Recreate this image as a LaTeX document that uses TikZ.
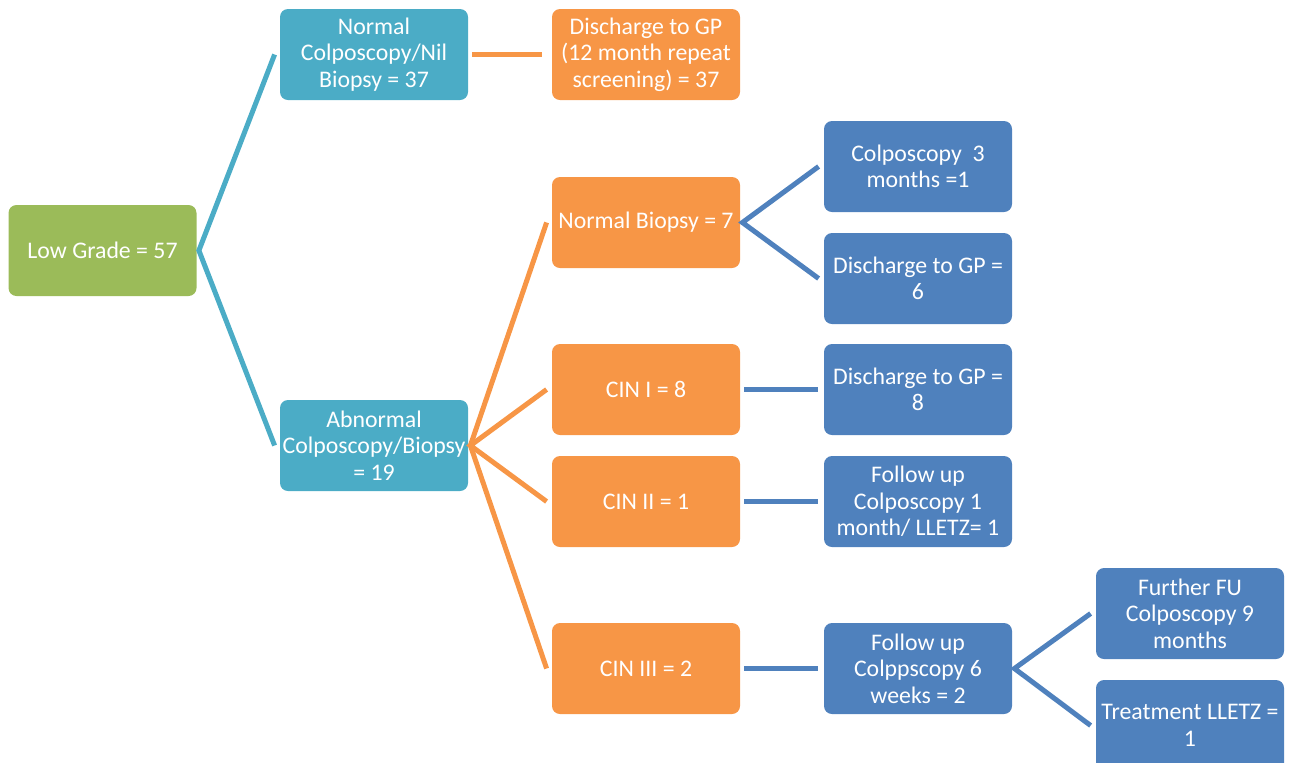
\documentclass[tikz,border=0pt]{standalone}
\usepackage{fontspec}
\setmainfont{Carlito}
\definecolor{lowgreen}{HTML}{9BBB59}
\definecolor{tealfill}{HTML}{4BACC6}
\definecolor{orangefill}{HTML}{F79646}
\definecolor{bluefill}{HTML}{4F81BD}
\tikzset{
	box/.style={rectangle, rounded corners=4pt, minimum width=94pt, minimum height=45.5pt,
		inner sep=1pt, align=center, text=white, font=\fontsize{11.9}{13.3}\selectfont},
	greenbox/.style={box, fill=lowgreen},
	tealbox/.style={box, fill=tealfill},
	orangebox/.style={box, fill=orangefill},
	bluebox/.style={box, fill=bluefill},
	link/.style={line width=2.5pt, line join=miter},
	teallink/.style={link, draw=tealfill},
	orangelink/.style={link, draw=orangefill},
	bluelink/.style={link, draw=bluefill}
}
\begin{document}
\begin{tikzpicture}[x=0.5pt, y=-0.5pt]
			\clip (0,0) rectangle (1299,762);
			
			% first column
			\node[greenbox] (low) at (102.5,250.5) {Low Grade = 57};
			
			% second column
			\node[tealbox] (normcol) at (374,54.5) {Normal\\Colposcopy/Nil\\Biopsy = 37};
			\node[tealbox] (abncol) at (374,445.5) {Abnormal\\Colposcopy/Biopsy\\= 19};
			
			% third column
			\node[orangebox] (dischgp) at (646,54.5) {Discharge to GP\\(12 month repeat\\screening) = 37};
			\node[orangebox] (normbio) at (646,222.5) {Normal Biopsy = 7};
			\node[orangebox] (cinone) at (646,389.5) {CIN I = 8};
			\node[orangebox] (cintwo) at (646,501.5) {CIN II = 1};
			\node[orangebox] (cinthree) at (646,668.5) {CIN III = 2};
			
			% fourth column
			\node[bluebox] (colthree) at (918,166.5) {Colposcopy\ \ 3\\months =1};
			\node[bluebox] (dischsix) at (918,278.5) {Discharge to GP =\\6};
			\node[bluebox] (discheight) at (918,389.5) {Discharge to GP =\\8};
			\node[bluebox] (fuonemonth) at (918,501.5) {Follow up\\Colposcopy 1\\month/ LLETZ= 1};
			\node[bluebox] (fusixweeks) at (918,668.5) {Follow up\\Colppscopy 6\\weeks = 2};
			
			% fifth column
			\node[bluebox] (furtherfu) at (1190,613.5) {Further FU\\Colposcopy 9\\months};
			\node[bluebox] (lletz) at (1190,725.5) {Treatment LLETZ =\\1};
			
			% connectors
			\draw[teallink] ([xshift=-2.5pt]normcol.west) -- ([xshift=1pt]low.east) -- ([xshift=-2.5pt]abncol.west);
			\draw[orangelink] ([xshift=2pt]normcol.east) -- ([xshift=-5pt]dischgp.west);
			\draw[orangelink] ([xshift=-2.5pt]normbio.west) -- ([xshift=1pt]abncol.east) -- ([xshift=-2.5pt]cinthree.west);
			\draw[orangelink] ([xshift=-2.5pt]cinone.west) -- ([xshift=1pt]abncol.east) -- ([xshift=-2.5pt]cintwo.west);
			\draw[bluelink] ([xshift=-2.5pt]colthree.west) -- ([xshift=1pt]normbio.east) -- ([xshift=-2.5pt]dischsix.west);
			\draw[bluelink] ([xshift=2pt]cinone.east) -- ([xshift=-3pt]discheight.west);
			\draw[bluelink] ([xshift=2pt]cintwo.east) -- ([xshift=-3pt]fuonemonth.west);
			\draw[bluelink] ([xshift=2pt]cinthree.east) -- ([xshift=-3pt]fusixweeks.west);
			\draw[bluelink] ([xshift=-2.5pt]furtherfu.west) -- ([xshift=1pt]fusixweeks.east) -- ([xshift=-2.5pt]lletz.west);
		\end{tikzpicture}
\end{document}
